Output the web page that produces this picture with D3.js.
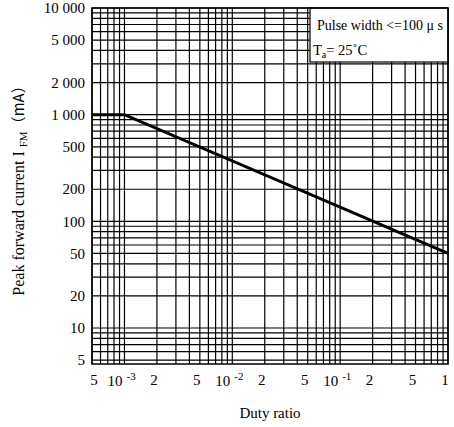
<!DOCTYPE html>
<html>
<head>
<meta charset="utf-8">
<script src="https://cdn.jsdelivr.net/npm/d3@7"></script>
<style>
    body { margin: 0; background: #fff; }
    svg text { font-family: "Liberation Serif", "Times New Roman", serif; fill: #000; }
</style>
</head>
<body>
<div id="chart"></div>
<script>
// Duty ratio (x) against peak forward current in mA (y)
var dutyRatio = [0.0005, 0.001, 1];
var peakCurrent = [1000, 1000, 50];

var xTicks = [0.0005, 0.001, 0.002, 0.005, 0.01, 0.02, 0.05, 0.1, 0.2, 0.5, 1];
var xTickLabels = ['5', '10|-3', '2', '5', '10|-2', '2', '5', '10|-1', '2', '5', '1'];
var yTicks = [10000, 5000, 2000, 1000, 500, 200, 100, 50, 20, 10, 5];
var yTickLabels = ['10 000', '5 000', '2 000', '1 000', '500', '200', '100', '50', '20', '10', '5'];

var margin = {top: 8, right: 6, bottom: 63, left: 92},
    width = 454 - margin.left - margin.right,
    height = 427 - margin.top - margin.bottom;

var svg = d3.select('#chart')
    .append('svg')
    .attr('width', 454)
    .attr('height', 427)
    .append('g')
    .attr('transform', 'translate(' + margin.left + ',' + margin.top + ')');

var x = d3.scaleLog().domain([0.0005, 1]).range([0, width]);
var y = d3.scaleLog().domain([4.6, 10000]).range([height, 0]);

// grid lines at every 1..9 step of each decade
var xGrid = [], yGrid = [];
[-4, -3, -2, -1, 0].forEach(function (e) {
    for (var m = 1; m < 10; m++) {
        var v = m * Math.pow(10, e);
        if (v >= 0.0005 - 1e-9 && v <= 1 + 1e-9) xGrid.push(v);
    }
});
[0, 1, 2, 3, 4].forEach(function (e) {
    for (var m = 1; m < 10; m++) {
        var v = m * Math.pow(10, e);
        if (v >= 5 && v <= 10000) yGrid.push(v);
    }
});

svg.append('g')
    .selectAll('line')
    .data(xGrid)
    .enter()
    .append('line')
    .attr('x1', function (d) { return x(d); })
    .attr('x2', function (d) { return x(d); })
    .attr('y1', 0)
    .attr('y2', height)
    .attr('stroke', '#000')
    .attr('stroke-width', 1.2);

svg.append('g')
    .selectAll('line')
    .data(yGrid)
    .enter()
    .append('line')
    .attr('x1', 0)
    .attr('x2', width)
    .attr('y1', function (d) { return y(d); })
    .attr('y2', function (d) { return y(d); })
    .attr('stroke', '#000')
    .attr('stroke-width', 1.2);

// the curve
var line = d3.line()
    .x(function (d) { return x(d[0]); })
    .y(function (d) { return y(d[1]); });

svg.append('path')
    .datum(d3.zip(dutyRatio, peakCurrent))
    .attr('d', line)
    .attr('fill', 'none')
    .attr('stroke', '#000')
    .attr('stroke-width', 3);

// legend box
var box = svg.append('g').attr('transform', 'translate(218,0)');
box.append('rect')
    .attr('width', width - 218)
    .attr('height', 54)
    .attr('fill', '#fff')
    .attr('stroke', '#000')
    .attr('stroke-width', 1.2);
box.append('text')
    .attr('x', 7)
    .attr('y', 22)
    .style('font-size', '14px')
    .text('Pulse width <=100 \u03bc s');
var ta = box.append('text')
    .attr('x', 3)
    .attr('y', 47)
    .style('font-size', '14.5px');
ta.append('tspan').text('T');
ta.append('tspan').attr('dy', 3).style('font-size', '10px').text('a');
ta.append('tspan').attr('dy', -3).text('= 25\u02daC');

// frame
svg.append('rect')
    .attr('width', width)
    .attr('height', height)
    .attr('fill', 'none')
    .attr('stroke', '#000')
    .attr('stroke-width', 1.5);

// y tick labels
svg.append('g')
    .selectAll('text')
    .data(yTicks)
    .enter()
    .append('text')
    .attr('x', -7)
    .attr('y', function (d) { return y(d); })
    .attr('dy', '0.35em')
    .attr('text-anchor', 'end')
    .style('font-size', '15px')
    .text(function (d, i) { return yTickLabels[i]; });

// x tick labels, powers of ten get a superscript
var xLab = svg.append('g')
    .selectAll('g')
    .data(xTicks)
    .enter()
    .append('g')
    .attr('transform', function (d) { return 'translate(' + x(d) + ',' + (height + 21) + ')'; });

xLab.each(function (d, i) {
    var g = d3.select(this),
        parts = xTickLabels[i].split('|');
    if (parts.length > 1) {
        g.append('text')
            .attr('x', -2)
            .attr('y', 1)
            .attr('text-anchor', 'end')
            .style('font-size', '15px')
            .text(parts[0]);
        g.append('text')
            .attr('x', 2)
            .attr('y', -5)
            .style('font-size', '11px')
            .text(parts[1]);
    } else {
        g.append('text')
            .attr('x', i === 0 ? 2 : -3)
            .attr('text-anchor', 'middle')
            .style('font-size', '15px')
            .text(parts[0]);
    }
});

// axis titles
svg.append('text')
    .attr('x', width / 2)
    .attr('y', height + 54)
    .attr('text-anchor', 'middle')
    .style('font-size', '15px')
    .text('Duty ratio');

var yt = svg.append('text')
    .attr('transform', 'translate(' + (-68) + ',' + (height / 2 + 1) + ') rotate(-90)')
    .attr('text-anchor', 'middle')
    .style('font-size', '16px');
yt.append('tspan').text('Peak forward current I ');
yt.append('tspan').attr('dy', 3).style('font-size', '11px').text('FM');
yt.append('tspan').attr('dy', -3).style('font-family', '"Noto Sans CJK SC", sans-serif').style('font-size', '15px').text('\uff08mA\uff09');
</script>
</body>
</html>
